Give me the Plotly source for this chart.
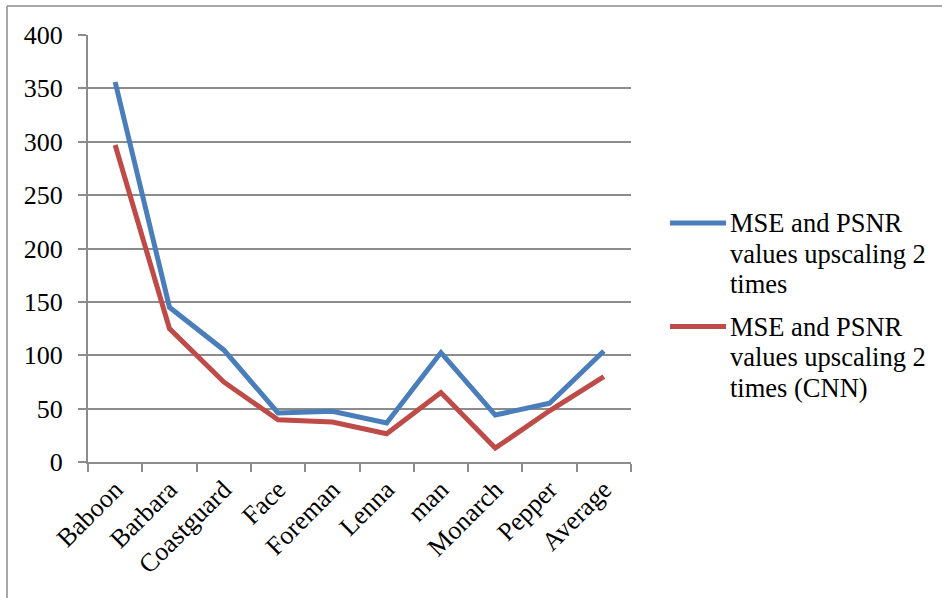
import plotly.graph_objects as go

# Test images and the error values for the two upscaling methods
images = ["Baboon", "Barbara", "Coastguard", "Face", "Foreman",
          "Lenna", "man", "Monarch", "Pepper", "Average"]
upscale_2x = [356, 145, 105, 46, 47.5, 36.5, 102.5, 44, 55, 104]
upscale_2x_cnn = [297, 125, 75, 39.5, 37.5, 26.5, 65, 13, 48, 80]

# Legend labels, one list entry per text row
series_labels = [
    ["MSE and PSNR", "values upscaling 2", "times"],
    ["MSE and PSNR", "values upscaling 2", "times (CNN)"],
]
series_colors = ["#4A7EBB", "#BE4B48"]
grid_color = "#8C8C8C"
font_family = "Liberation Serif"

# Plot-area geometry in pixels (used to place the side legend in paper units)
W, H = 942, 598
L, R, T, B = 88, 311, 35, 136
PW, PH = W - L - R, H - T - B


def px_x(x):
    return (x - L) / PW


def px_y(y):
    return (H - B - y) / PH


fig = go.Figure()
for labels, values, color in zip(series_labels, [upscale_2x, upscale_2x_cnn], series_colors):
    fig.add_trace(go.Scatter(
        x=images, y=values, mode="lines", name=" ".join(labels),
        line=dict(color=color, width=5), showlegend=False,
    ))

# Side legend: a short coloured line and three rows of text per series
shapes = []
annotations = []
entry_top = [223, 326.5]
row_gap = 30.5
for labels, color, y0 in zip(series_labels, series_colors, entry_top):
    shapes.append(dict(type="line", xref="paper", yref="paper",
                       x0=px_x(670), x1=px_x(726), y0=px_y(y0), y1=px_y(y0),
                       line=dict(color=color, width=5)))
    for i, row in enumerate(labels):
        annotations.append(dict(
            text=row, xref="paper", yref="paper",
            x=px_x(728), y=px_y(y0 + i * row_gap),
            xanchor="left", yanchor="middle", showarrow=False,
            font=dict(family=font_family, size=26.5, color="black"),
        ))

# Outer chart frame (left and top edges)
shapes += [
    dict(type="line", xref="paper", yref="paper",
         x0=px_x(7), x1=px_x(7), y0=px_y(598), y1=px_y(6),
         line=dict(color=grid_color, width=1.5)),
    dict(type="line", xref="paper", yref="paper",
         x0=px_x(7), x1=px_x(942), y0=px_y(6), y1=px_y(6),
         line=dict(color=grid_color, width=1.5)),
]

fig.update_layout(
    width=W, height=H,
    margin=dict(l=L, r=R, t=T, b=B),
    paper_bgcolor="white", plot_bgcolor="white",
    font=dict(family=font_family, size=26, color="black"),
    showlegend=False,
    xaxis=dict(
        type="category", range=[-0.5, 9.5], tickangle=-45,
        tickson="boundaries", ticks="outside", ticklen=8, tickwidth=2,
        tickcolor=grid_color, showline=True, linecolor=grid_color, linewidth=2,
        showgrid=False, zeroline=False,
        tickfont=dict(family=font_family, size=26),
    ),
    yaxis=dict(
        range=[0, 400], dtick=50, ticks="outside", ticklen=8, tickwidth=2,
        tickcolor=grid_color, showline=True, linecolor=grid_color, linewidth=2,
        showgrid=True, gridcolor=grid_color, gridwidth=2, zeroline=False,
        ticklabelstandoff=10,
        tickfont=dict(family=font_family, size=26),
    ),
    shapes=shapes,
    annotations=annotations,
)

fig.write_html("out.html")
